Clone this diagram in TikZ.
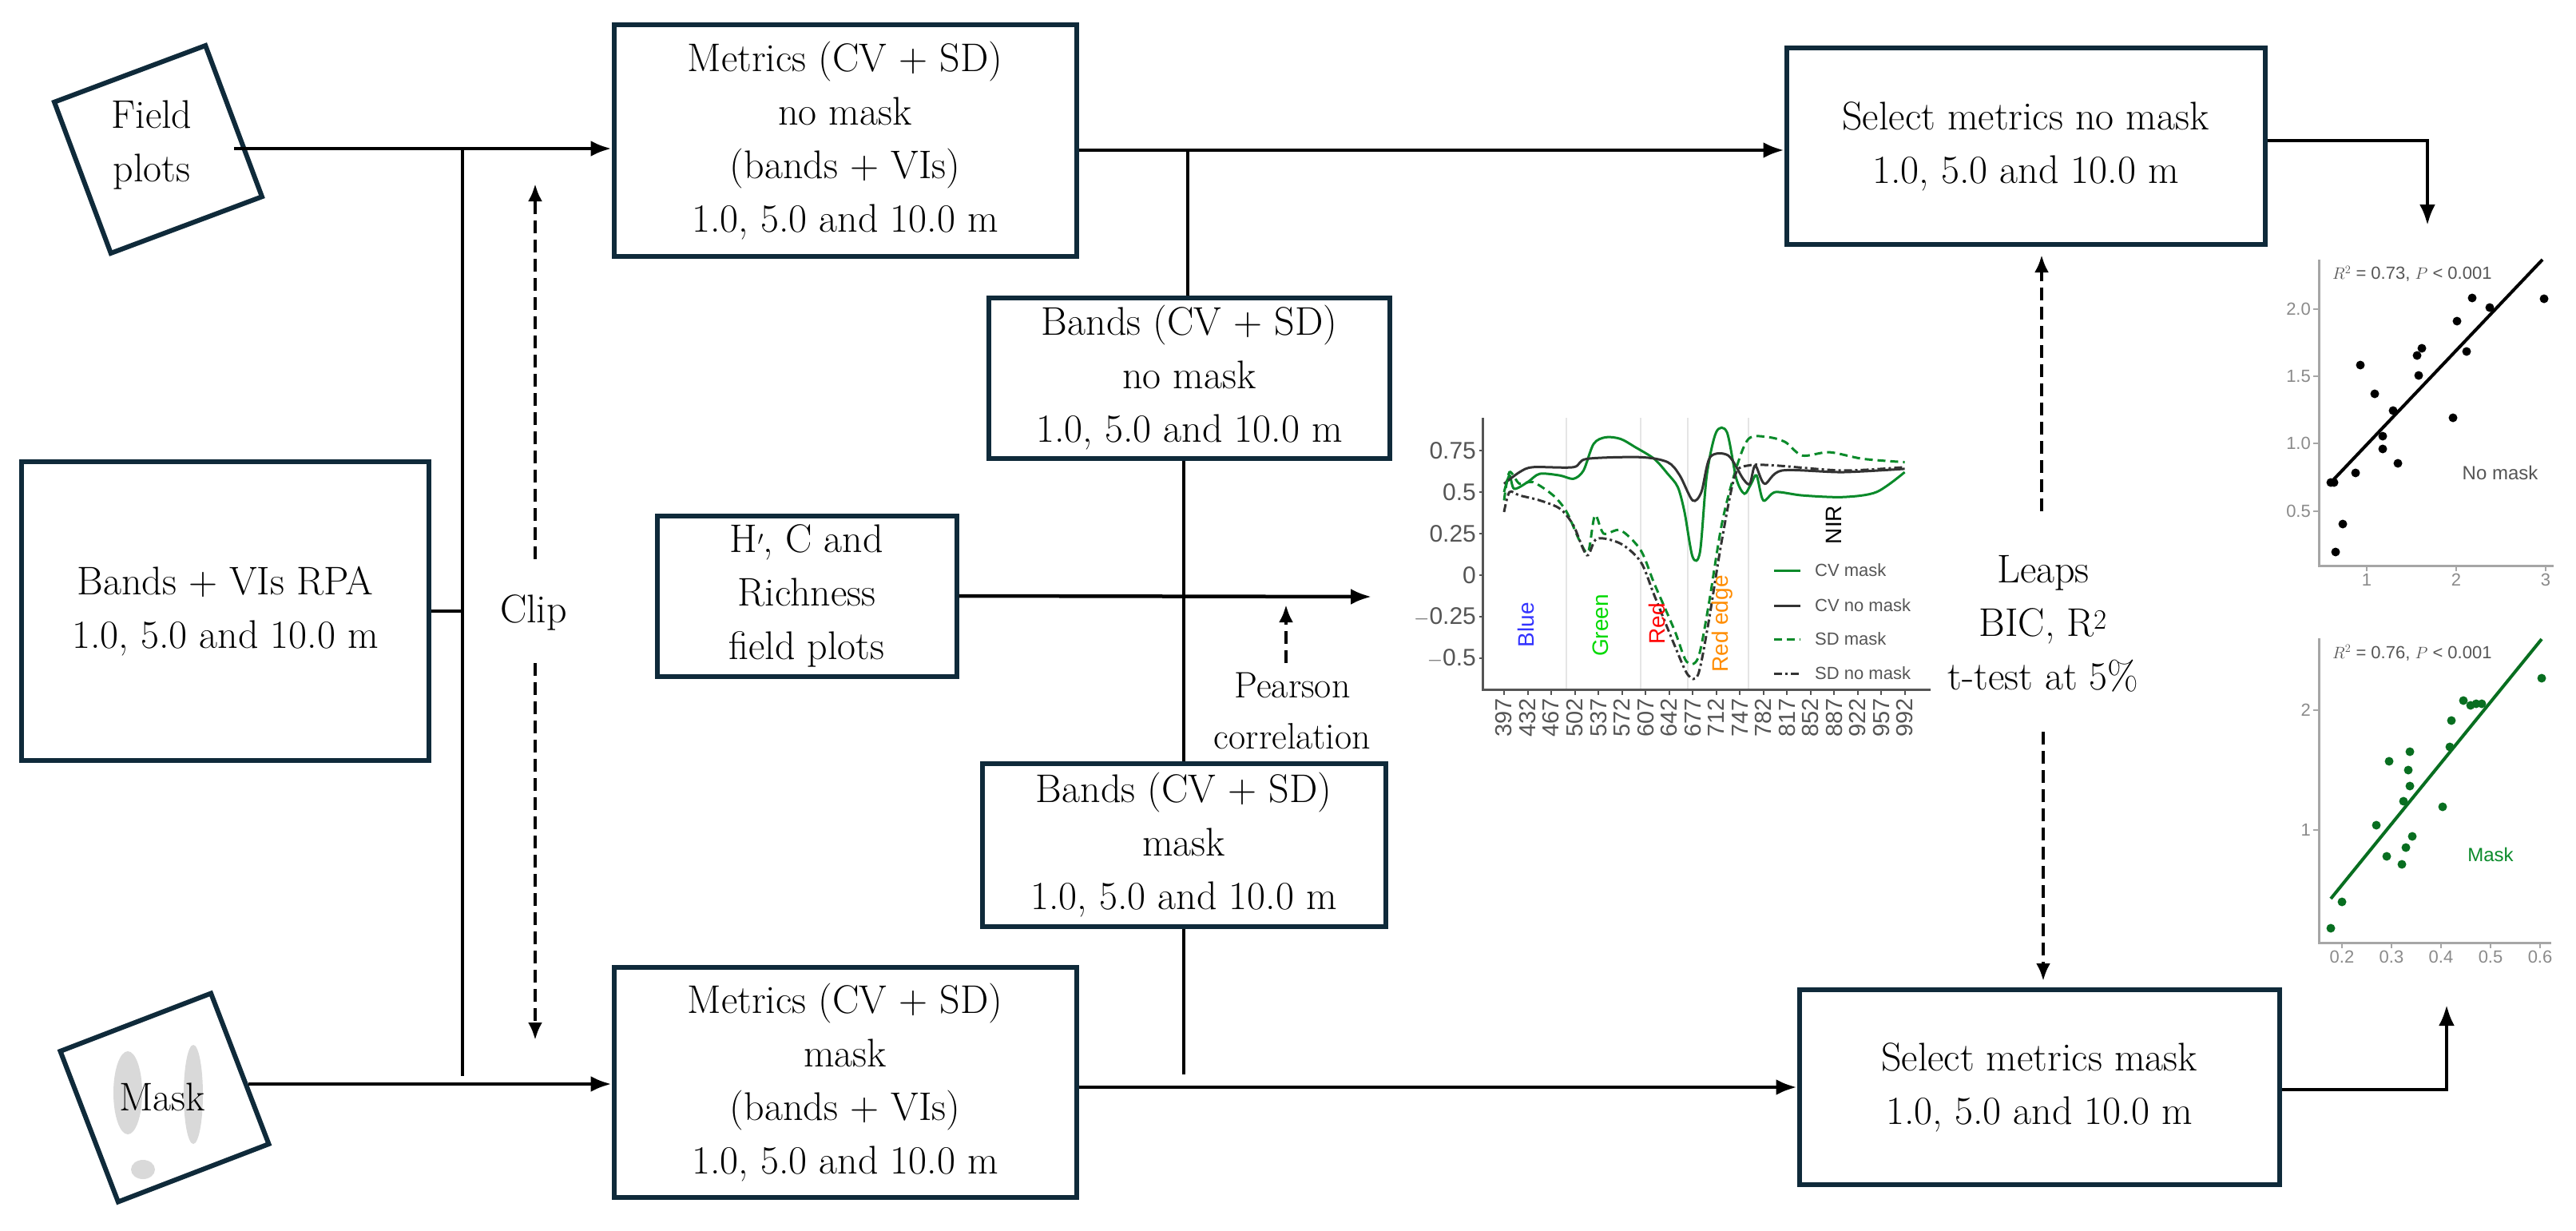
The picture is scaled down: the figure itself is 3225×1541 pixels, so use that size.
\documentclass[tikz,border=0pt]{standalone}
\usepackage{fontspec}
\newfontfamily\sansf{Liberation Sans}
\usetikzlibrary{arrows.meta}
\definecolor{navy}{HTML}{0F2A3A}
\definecolor{gmask}{HTML}{0A8A2A}
\definecolor{gdot}{HTML}{086E20}
\definecolor{axg}{HTML}{555555}
\definecolor{tickg}{HTML}{8A8A8A}
\begin{document}
\begin{tikzpicture}[x=1pt,y=-1pt,
  box/.style={draw=navy,line width=6pt,align=center,inner sep=0pt,font=\fontsize{50}{67}\selectfont},
  txt/.style={align=center,inner sep=0pt,font=\fontsize{50}{67}\selectfont},
  conn/.style={line width=4.5pt,black},
  arr/.style={conn,-{Latex[length=26pt,width=20pt]}},
  darr/.style={line width=4.5pt,dashed,dash pattern=on 16pt off 8pt,-{Latex[length=22pt,width=18pt]}},
  ax/.style={line width=3pt,axg},
  tl/.style={font=\sansf\fontsize{30}{30}\selectfont,text=axg,inner sep=2pt},
  sl/.style={font=\sansf\fontsize{22}{22}\selectfont,text=tickg,inner sep=2pt},
  lg/.style={font=\sansf\fontsize{22}{22}\selectfont,text=axg,anchor=west,inner sep=0pt},
  bl/.style={font=\sansf\fontsize{28}{28}\selectfont,rotate=90,inner sep=0pt},
  dotb/.style={fill=black},
  dotg/.style={fill=gdot}]
\useasboundingbox (0,0) rectangle (3225,1541);

% ---- input shapes
\node[draw=navy,line width=6pt,rotate=20.5,minimum size=202pt,inner sep=0pt] (fpsq) at (198,187) {};
\node[txt] (fp) at (190,182) {Field\\plots};
\fill[gray!30] (160,1368) ellipse [x radius=18,y radius=52];
\fill[gray!30] (242,1370) ellipse [x radius=12,y radius=62];
\fill[gray!30] (179,1464) ellipse [x radius=15,y radius=12];
\node[draw=navy,line width=6pt,rotate=21,minimum size=202pt,inner sep=0pt] (mksq) at (206,1374) {};
\node[txt] (mk) at (203,1373) {Mask};

\node[box,minimum width=510pt,minimum height=374pt] (rpa) at (282,765) {Bands + VIs RPA\\1.0, 5.0 and 10.0 m};

\node[box,minimum width=579pt,minimum height=290pt] (mt) at (1058,176) {Metrics (CV + SD)\\no mask\\(bands + VIs)\\1.0, 5.0 and 10.0 m};
\node[box,minimum width=579pt,minimum height=288pt] (mb) at (1058,1355) {Metrics (CV + SD)\\mask\\(bands + VIs)\\1.0, 5.0 and 10.0 m};
\node[box,minimum width=502pt,minimum height=201pt] (bn) at (1489,473) {Bands (CV + SD)\\no mask\\1.0, 5.0 and 10.0 m};
\node[box,minimum width=505pt,minimum height=204pt] (bm) at (1482,1058) {Bands (CV + SD)\\mask\\1.0, 5.0 and 10.0 m};
\node[box,minimum width=375pt,minimum height=201pt] (hc) at (1010,746) {H$'$, C and\\Richness\\field plots};
\node[box,minimum width=599pt,minimum height=245pt] (sn) at (2536,183) {Select metrics no mask\\1.0, 5.0 and 10.0 m};
\node[box,minimum width=601pt,minimum height=244pt] (sm) at (2553,1361) {Select metrics mask\\1.0, 5.0 and 10.0 m};

% ---- connectors left
\coordinate (fs) at (293,186);
\coordinate (ms) at (311,1357);
\coordinate (vt) at (579,186);
\coordinate (vb) at (579,1347);
\draw[arr] (fs) -- (mt.west |- fs);
\draw[arr] (ms) -- (mb.west |- ms);
\draw[conn] (vt) -- (vb);
\draw[conn] (rpa.east) -- (rpa.east -| vt);
\node[txt] (clip) at (668,767) {Clip};
\coordinate (c1) at (670,700);
\coordinate (c2) at (670,230);
\coordinate (c3) at (670,830);
\coordinate (c4) at (670,1302);
\draw[darr] (c1) -- (c2);
\draw[darr] (c3) -- (c4);

% ---- middle connectors
\coordinate (tj) at (1487,188);
\coordinate (bj) at (1482,1345);
\draw[arr] (mt.east |- tj) -- (sn.west |- tj);
\draw[conn] (tj) -- (tj |- bn.north);
\draw[conn] (bn.south -| bj) -- (bm.north -| bj);
\draw[conn] (bm.south -| bj) -- (bj);
\draw[arr] (mb.east |- sm.west) -- (sm.west);
\coordinate (ht) at (1717,747);
\draw[arr] (hc.east) -- (ht);
\coordinate (p1) at (1610,830);
\coordinate (p2) at (1610,757);
\draw[darr] (p1) -- (p2);
\node[txt,font=\fontsize{46}{64}\selectfont] (pc) at (1618,890) {Pearson\\correlation};

% ---- Leaps
\node[txt] (lp) at (2558,781) {Leaps\\BIC, R\textsuperscript{2}\\t-test at 5\%};
\coordinate (l1) at (2556,640);
\coordinate (l2) at (2556,319);
\coordinate (l3) at (2558,916);
\coordinate (l4) at (2558,1228);
\draw[darr] (l1) -- (l2);
\draw[darr] (l3) -- (l4);

% ---- right arrows
\coordinate (r1) at (3039,176);
\coordinate (r2) at (3039,282);
\draw[conn,-{Latex[length=26pt,width=20pt]}] (sn.east |- r1) -- (r1) -- (r2);
\coordinate (r3) at (3063,1364);
\coordinate (r4) at (3063,1258);
\draw[conn,-{Latex[length=26pt,width=20pt]}] (sm.east |- r3) -- (r3) -- (r4);

% ---- spectral chart
\begin{scope}[shift={(1548.3,720)},x=0.843pt,y=208pt]
  \foreach \g in {490,600,670,760} \draw[line width=2pt,gray!20] (\g,0.947) -- (\g,-0.692);
  \draw[ax] (366,0.947) -- (366,-0.692) -- (1030,-0.692);
  \foreach \v/\l in {0.75/0.75,0.5/0.5,0.25/0.25,0/0,-0.25/$-$0.25,-0.5/$-$0.5} {
    \draw[ax,line width=2pt] (360,\v) -- (366,\v);
    \node[tl,anchor=east] at (358,\v) {\l};}
  \foreach \n in {397,432,...,992} {
    \draw[ax,line width=2pt] (\n,-0.692) -- (\n,-0.72);
    \node[tl,rotate=90,anchor=east,font=\sansf\fontsize{29}{29}\selectfont] at (\n,-0.73) {\n};}
  \draw[gmask,line width=3pt] plot[smooth,tension=0.5] coordinates {(397,0.5) (405,0.6) (412,0.52) (432,0.56) (450,0.61) (480,0.6) (500,0.58) (515,0.63) (530,0.79) (548,0.83) (570,0.82) (592,0.77) (620,0.7) (640,0.61) (655,0.53) (665,0.38) (677,0.11) (688,0.14) (698,0.6) (712,0.86) (728,0.86) (742,0.58) (754,0.49) (764,0.55) (772,0.6) (782,0.45) (800,0.5) (840,0.48) (900,0.47) (950,0.5) (992,0.62)};
  \draw[black!80,line width=3pt] plot[smooth,tension=0.5] coordinates {(397,0.55) (420,0.62) (440,0.65) (500,0.65) (520,0.7) (600,0.71) (640,0.68) (658,0.6) (677,0.45) (690,0.5) (703,0.71) (730,0.72) (752,0.58) (762,0.55) (770,0.66) (784,0.55) (810,0.63) (900,0.62) (992,0.64)};
  \draw[gmask,line width=3pt,dash pattern=on 10pt off 6pt] plot[smooth,tension=0.5] coordinates {(397,0.45) (405,0.62) (420,0.55) (440,0.56) (470,0.48) (490,0.38) (510,0.2) (522,0.14) (532,0.36) (545,0.25) (570,0.27) (600,0.15) (620,-0.05) (650,-0.33) (668,-0.52) (685,-0.5) (700,-0.2) (720,0.3) (740,0.62) (760,0.82) (790,0.83) (815,0.8) (840,0.72) (880,0.74) (930,0.7) (992,0.68)};
  \draw[black!80,line width=3pt,dash pattern=on 10pt off 4pt on 3pt off 4pt] plot[smooth,tension=0.5] coordinates {(397,0.38) (405,0.5) (420,0.48) (450,0.45) (480,0.4) (500,0.3) (520,0.12) (535,0.22) (570,0.19) (600,0.08) (620,-0.12) (650,-0.42) (670,-0.6) (685,-0.6) (700,-0.3) (720,0.2) (740,0.6) (760,0.66) (800,0.66) (900,0.63) (992,0.65)};
\end{scope}
\node[bl,text=blue!80] (tb) at (1910,782) {Blue};
\node[bl,text=green!85!black] (tg) at (2004,783) {Green};
\node[bl,text=red] (tr) at (2074,781) {Red};
\node[bl,text=orange!90!yellow] (tre) at (2156,781) {Red edge};
\node[bl,text=black] (tn) at (2296,657) {NIR};
\draw[gmask,line width=3pt] (2221,714) -- (2254,714);
\draw[black!80,line width=3pt] (2221,758) -- (2254,758);
\draw[gmask,line width=3pt,dash pattern=on 10pt off 6pt] (2221,800) -- (2254,800);
\draw[black!80,line width=3pt,dash pattern=on 10pt off 4pt on 3pt off 4pt] (2221,843) -- (2254,843);
\node[lg] at (2272,714) {CV mask};
\node[lg] at (2272,758) {CV no mask};
\node[lg] at (2272,800) {SD mask};
\node[lg] at (2272,843) {SD no mask};

% ---- scatter 1
\draw[line width=3pt,gray!70] (2903,325) -- (2903,708) -- (3197,708);
\foreach \y/\l in {387/2.0,471/1.5,555/1.0,640/0.5} {\draw[line width=2pt,gray!70] (2896,\y) -- (2903,\y); \node[sl,anchor=east] at (2895,\y) {\l};}
\foreach \x/\l in {2963/1,3075/2,3187/3} {\draw[line width=2pt,gray!70] (\x,708) -- (\x,715); \node[sl,anchor=north] at (\x,716) {\l};}
\draw[line width=4pt,black] (2918,604) -- (3183,325);
\foreach \p in {(2918,604),(2922,604),(2924,691),(2933,656),(2949,592),(2955,457),(2973,493),(2983,546),(2983,562),(2996,514),(3002,580),(3026,445),(3032,436),(3028,470),(3071,523),(3076,402),(3088,440),(3095,373),(3117,385),(3185,374)} \fill[dotb] \p circle (5.5);
\node[sl,anchor=west,text=axg] at (2918,343) {$R^2$ = 0.73, $P$ < 0.001};
\node[sl,text=axg,font=\sansf\fontsize{24}{24}\selectfont] at (3130,592) {No mask};

% ---- scatter 2
\draw[line width=3pt,gray!70] (2903,799) -- (2903,1180) -- (3194,1180);
\foreach \y/\l in {889/2,1039/1} {\draw[line width=2pt,gray!70] (2896,\y) -- (2903,\y); \node[sl,anchor=east] at (2895,\y) {\l};}
\foreach \x/\l in {2932/0.2,2994/0.3,3056/0.4,3118/0.5,3180/0.6} {\draw[line width=2pt,gray!70] (\x,1180) -- (\x,1187); \node[sl,anchor=north] at (\x,1188) {\l};}
\draw[line width=4pt,gdot] (2918,1125) -- (3182,800);
\foreach \p in {(2918,1162),(2932,1129),(2975,1033),(2988,1072),(2991,953),(3007,1082),(3009,1003),(3012,1061),(3015,964),(3017,941),(3017,984),(3020,1047),(3058,1010),(3067,935),(3069,902),(3084,877),(3093,883),(3100,881),(3107,881),(3182,849)} \fill[dotg] \p circle (5.5);
\node[sl,anchor=west,text=axg] at (2918,817) {$R^2$ = 0.76, $P$ < 0.001};
\node[sl,text=gmask,font=\sansf\fontsize{24}{24}\selectfont] at (3118,1070) {Mask};
\end{tikzpicture}
\end{document}
